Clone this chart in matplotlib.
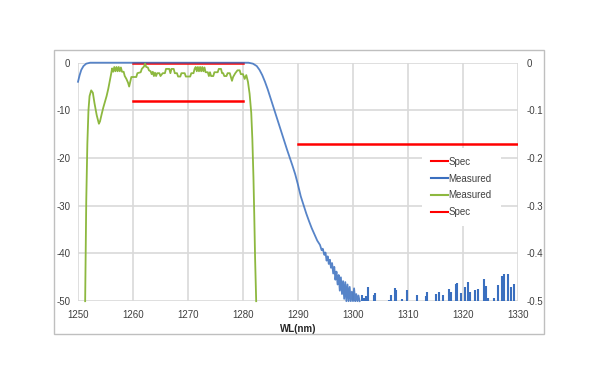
import numpy as np
import matplotlib
matplotlib.use("Agg")
import matplotlib.pyplot as plt
from matplotlib.patches import Rectangle
from matplotlib.lines import Line2D

# Measured (blue) transmission, dB: smooth part + dense noisy region near the floor
BLUE_WL = [1250.0, 1250.3, 1250.6, 1251.0, 1251.5, 1252.2, 1281.0, 1281.8, 1282.5,
           1283.0, 1283.5, 1284.0, 1284.5, 1285.0, 1285.5, 1286.0, 1286.5, 1287.0,
           1287.5, 1288.0, 1288.5, 1289.0, 1289.5, 1290.0, 1290.5, 1291.0, 1291.5,
           1292.0, 1292.5, 1293.0, 1293.5, 1294.0, 1294.3, 1294.5, 1294.8, 1295.0,
           1295.2, 1295.4, 1295.6, 1295.8, 1296.0, 1296.2, 1296.4, 1296.6, 1296.8,
           1297.0, 1297.2, 1297.4, 1297.6, 1297.8, 1298.0, 1298.2, 1298.4, 1298.6,
           1298.8, 1299.0, 1299.2, 1299.4, 1299.6, 1299.8, 1300.0, 1300.2, 1300.4,
           1300.6, 1300.8, 1301.0, 1301.2]
BLUE_DB = [-4.0, -2.6, -1.5, -0.7, -0.2, 0.0, 0.0, -0.2, -0.7,
           -1.5, -2.6, -4.0, -5.6, -7.4, -9.2, -11.0, -12.8, -14.6,
           -16.4, -18.2, -19.9, -21.6, -23.4, -25.6, -28.0, -29.8, -31.6,
           -33.2, -34.7, -36.0, -37.3, -38.2, -39.3, -39.0, -40.3, -39.8,
           -41.5, -40.6, -42.2, -41.3, -43.0, -42.0, -44.2, -42.8, -45.5,
           -43.8, -46.5, -44.5, -47.8, -45.0, -48.5, -45.8, -49.5, -46.0,
           -50.0, -46.5, -50.0, -47.0, -50.0, -48.0, -50.0, -47.3, -50.0,
           -48.5, -50.0, -48.8, -50.0]

# Isolated noise spikes above the -50 dB floor (blue)
SPIKE_WL = [1301.6, 1302.05, 1302.35, 1302.65, 1303.75, 1304.05, 1306.5, 1306.9,
            1307.6, 1307.8, 1308.9, 1309.8, 1311.6, 1313.3, 1313.5, 1315.1,
            1315.55, 1316.45, 1317.5, 1317.8, 1318.7, 1318.9, 1319.7, 1320.3,
            1320.85, 1321.2, 1322.1, 1322.7, 1323.75, 1324.2, 1324.5, 1325.6,
            1326.3, 1327.1, 1327.5, 1328.1, 1328.8, 1329.3]
SPIKE_DB = [-48.8, -49.4, -48.9, -47.0, -48.6, -48.3, -49.7, -48.8,
            -47.3, -47.7, -49.6, -47.6, -48.6, -48.9, -48.1, -48.5,
            -48.1, -48.7, -47.5, -48.0, -46.5, -46.2, -48.2, -47.0,
            -46.0, -48.0, -47.7, -47.4, -45.3, -46.8, -49.4, -49.4,
            -46.7, -44.7, -44.2, -44.2, -47.1, -46.5]

# Measured (green) passband, dB
GREEN_WL = [1251.3, 1251.5, 1251.7, 1251.9, 1252.1, 1252.4, 1252.7, 1253.0, 1253.4,
            1253.8, 1254.0, 1254.3, 1254.6, 1254.9, 1255.2, 1255.5, 1255.8, 1256.0,
            1256.2, 1256.4, 1256.6, 1256.8, 1257.0, 1257.2, 1257.4, 1257.6, 1257.8,
            1258.0, 1258.3, 1258.5, 1258.8, 1259.1, 1259.3, 1259.5, 1259.7, 1260.0,
            1260.6, 1260.8, 1261.4, 1261.6, 1262.0, 1262.2, 1262.4, 1262.7, 1262.9,
            1263.2, 1263.4, 1263.6, 1263.8, 1264.0, 1264.2, 1264.4, 1264.8, 1265.0,
            1265.4, 1265.8, 1266.0, 1266.6, 1266.8, 1267.0, 1267.4, 1267.6, 1268.0,
            1268.2, 1268.6, 1268.8, 1269.4, 1269.6, 1270.4, 1270.6, 1271.0, 1271.2,
            1271.4, 1271.6, 1271.8, 1272.0, 1272.2, 1272.4, 1272.6, 1272.8, 1273.0,
            1273.2, 1273.6, 1273.8, 1274.0, 1274.2, 1274.6, 1274.8, 1275.4, 1275.6,
            1276.0, 1276.2, 1276.4, 1276.6, 1277.0, 1277.2, 1277.6, 1277.8, 1278.0,
            1278.2, 1278.6, 1279.0, 1279.4, 1279.6, 1280.0, 1280.3, 1280.6, 1280.9,
            1281.2, 1281.5, 1281.7, 1281.9, 1282.05, 1282.2, 1282.4]
GREEN_DB = [-50.0, -29.0, -17.0, -10.0, -7.0, -5.8, -6.3, -8.5, -11.0,
            -12.8, -12.3, -10.8, -9.4, -8.2, -7.0, -5.5, -3.7, -2.5,
            -1.2, -1.9, -0.9, -1.8, -0.9, -1.8, -0.9, -1.8, -1.0,
            -1.9, -1.9, -2.8, -3.4, -4.2, -5.0, -4.0, -3.0, -3.0,
            -3.0, -2.2, -2.0, -1.3, -0.8, -0.2, -0.9, -1.0, -1.6,
            -1.8, -2.4, -1.9, -2.8, -2.1, -2.8, -2.2, -2.2, -2.8,
            -2.2, -2.2, -1.3, -1.3, -2.2, -1.3, -1.3, -2.2, -2.2,
            -2.9, -2.9, -2.2, -2.2, -2.9, -2.9, -2.2, -2.2, -1.3,
            -0.9, -1.8, -0.9, -1.8, -0.9, -1.8, -0.9, -1.8, -1.0,
            -2.0, -2.0, -2.8, -2.0, -2.8, -2.8, -2.0, -2.0, -1.3,
            -1.3, -2.2, -2.2, -2.8, -2.8, -2.2, -2.2, -3.0, -3.8,
            -3.0, -2.2, -1.6, -1.6, -2.4, -2.4, -3.4, -2.6, -4.0,
            -6.5, -10.5, -16.0, -24.0, -32.0, -41.0, -50.0]

# Spec masks: left axis (dB) and right axis
SPEC1_WL = [1260, 1280, np.nan, 1260, 1280]
SPEC1_DB = [0, 0, np.nan, -8, -8]
SPEC2_WL = [1290, 1330]
SPEC2_VAL = [-0.17, -0.17]

BLUE = "#3a6fbf"
GREEN = "#8db83f"
RED = "#ff0000"
GRID = "#d9d9d9"
TXT = "#404040"

plt.rcParams.update({"font.family": ["Liberation Sans", "DejaVu Sans"], "font.size": 7,
                     "axes.unicode_minus": False})

fig = plt.figure(figsize=(6.0, 3.83), dpi=100)
fig.patches.append(Rectangle((0.09, 0.128), 0.8167, 0.7415, transform=fig.transFigure,
                             fill=False, edgecolor="#bfbfbf", linewidth=1.0))
ax = fig.add_axes([0.13, 0.2136, 0.7333, 0.6227])
ax2 = ax.twinx()

# red spec sits under the blue trace on the 0 dB line (shows through as a tint)
ax.plot(SPEC1_WL, SPEC1_DB, color=RED, linewidth=1.8, zorder=2, clip_on=False)
ax.plot(BLUE_WL, BLUE_DB, color=BLUE, linewidth=1.3, zorder=3, alpha=0.85, clip_on=False)
ax.vlines(SPIKE_WL, -50, SPIKE_DB, color=BLUE, linewidth=1.5, zorder=3)
ax.plot(GREEN_WL, GREEN_DB, color=GREEN, linewidth=1.3, zorder=4, clip_on=False)
ax2.plot(SPEC2_WL, SPEC2_VAL, color=RED, linewidth=1.8)

ax.set_xlim(1250, 1330)
ax.set_ylim(-50, 0)
ax2.set_ylim(-0.5, 0)
ax.set_xticks(np.arange(1250, 1331, 10))
ax.set_yticks(np.arange(-50, 1, 10))
ax2.set_yticks([-0.5, -0.4, -0.3, -0.2, -0.1, 0])
ax2.set_yticklabels(["-0.5", "-0.4", "-0.3", "-0.2", "-0.1", "0"])

ax.grid(True, color=GRID, linewidth=1.2, zorder=0)
ax.set_axisbelow(True)
for a in (ax, ax2):
    for s in a.spines.values():
        s.set_visible(False)
ax.tick_params(axis="x", length=0, pad=6.5, colors=TXT, labelsize=7)
ax.tick_params(axis="y", length=0, pad=5.5, colors=TXT, labelsize=7)
ax2.tick_params(axis="y", length=0, pad=6.5, colors=TXT, labelsize=7)
ax.set_xlabel("WL(nm)", fontweight="bold", fontsize=7, color="#262626", labelpad=3)

handles = [Line2D([], [], color=RED, linewidth=1.5),
           Line2D([], [], color=BLUE, linewidth=1.5),
           Line2D([], [], color=GREEN, linewidth=1.5),
           Line2D([], [], color=RED, linewidth=1.5)]
leg = ax2.legend(handles, ["Spec", "Measured", "Measured", "Spec"],
                 loc="center", bbox_to_anchor=(461.5 / 600, 1 - 187 / 383),
                 bbox_transform=fig.transFigure, fontsize=7, frameon=True,
                 facecolor="white", edgecolor="none", framealpha=1.0,
                 handlelength=1.7, handletextpad=0.1, labelspacing=0.7,
                 borderpad=0.9, fancybox=False)
for t in leg.get_texts():
    t.set_color(TXT)

fig.savefig("out.png", dpi=100)
